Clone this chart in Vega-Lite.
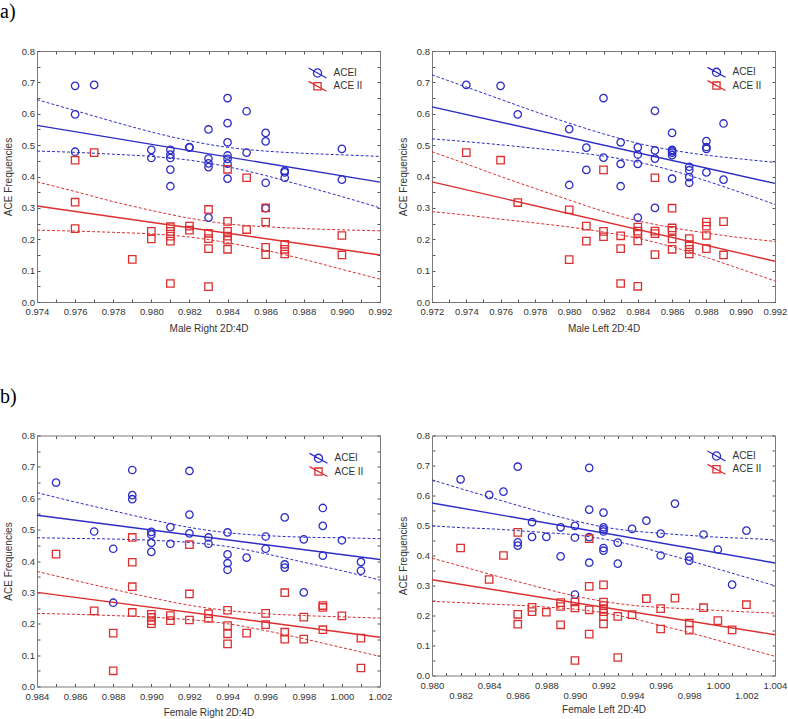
{
  "$schema": "https://vega.github.io/schema/vega-lite/v6.json",
  "padding": {"left": 0, "top": 2, "right": 5, "bottom": 0},
  "autosize": {"type": "pad"},
  "background": "white",
  "columns": 2,
  "spacing": {"row": 133.5, "column": 52},
  "bounds": "flush",
  "resolve": {
    "scale": {"x": "independent", "y": "independent", "color": "independent", "stroke": "independent"},
    "legend": {"color": "independent", "stroke": "independent"}
  },
  "config": {
    "font": "Liberation Sans",
    "view": {"stroke": null},
    "axis": {"grid": false, "tickSize": -3, "tickColor": "#555555", "tickWidth": 1, "domainColor": "#7a7a7a", "domainWidth": 1, "labelFontSize": 9.5, "labelColor": "#333333", "titleFontSize": 10, "titleFontWeight": "normal", "titleColor": "#333333", "labelFlush": false, "labelOverlap": false},
    "axisBottom": {"labelPadding": 7.5, "titlePadding": 7},
    "axisLeft": {"labelPadding": 5.5, "titlePadding": 8},
    "legend": {"symbolSize": 81, "symbolStrokeWidth": 1.3, "labelFontSize": 10, "labelColor": "#333333", "labelOffset": 10.5, "rowPadding": 0, "padding": 0, "title": null, "orient": "none"},
    "title": {"font": "Liberation Serif", "fontSize": 20, "fontWeight": "normal", "anchor": "start", "frame": "group", "color": "#000000"}
  },
  "datasets": {
    "fit": [
      {"p":"MR","g":"ACEI","x":0.974,"y":0.563},{"p":"MR","g":"ACEI","x":0.992,"y":0.382},
      {"p":"MR","g":"ACE II","x":0.974,"y":0.306},{"p":"MR","g":"ACE II","x":0.992,"y":0.150},
      {"p":"ML","g":"ACEI","x":0.972,"y":0.622},{"p":"ML","g":"ACEI","x":0.992,"y":0.378},
      {"p":"ML","g":"ACE II","x":0.972,"y":0.383},{"p":"ML","g":"ACE II","x":0.992,"y":0.130},
      {"p":"FR","g":"ACEI","x":0.984,"y":0.546},{"p":"FR","g":"ACEI","x":1.002,"y":0.405},
      {"p":"FR","g":"ACE II","x":0.984,"y":0.300},{"p":"FR","g":"ACE II","x":1.002,"y":0.157},
      {"p":"FL","g":"ACEI","x":0.980,"y":0.575},{"p":"FL","g":"ACEI","x":1.004,"y":0.375},
      {"p":"FL","g":"ACE II","x":0.980,"y":0.319},{"p":"FL","g":"ACE II","x":1.004,"y":0.136}
    ],
    "bands": [
      {"p":"MR","g":"ACEI","x":0.974,"u":0.645,"l":0.481},{"p":"MR","g":"ACEI","x":0.976,"u":0.610,"l":0.477},{"p":"MR","g":"ACEI","x":0.978,"u":0.575,"l":0.471},{"p":"MR","g":"ACEI","x":0.980,"u":0.542,"l":0.464},{"p":"MR","g":"ACEI","x":0.982,"u":0.514,"l":0.452},{"p":"MR","g":"ACEI","x":0.984,"u":0.493,"l":0.431},{"p":"MR","g":"ACEI","x":0.986,"u":0.481,"l":0.403},{"p":"MR","g":"ACEI","x":0.988,"u":0.474,"l":0.370},{"p":"MR","g":"ACEI","x":0.990,"u":0.469,"l":0.336},{"p":"MR","g":"ACEI","x":0.992,"u":0.464,"l":0.300},
      {"p":"MR","g":"ACE II","x":0.974,"u":0.383,"l":0.229},{"p":"MR","g":"ACE II","x":0.976,"u":0.352,"l":0.226},{"p":"MR","g":"ACE II","x":0.978,"u":0.320,"l":0.222},{"p":"MR","g":"ACE II","x":0.980,"u":0.292,"l":0.217},{"p":"MR","g":"ACE II","x":0.982,"u":0.267,"l":0.207},{"p":"MR","g":"ACE II","x":0.984,"u":0.249,"l":0.189},{"p":"MR","g":"ACE II","x":0.986,"u":0.240,"l":0.165},{"p":"MR","g":"ACE II","x":0.988,"u":0.234,"l":0.136},{"p":"MR","g":"ACE II","x":0.990,"u":0.230,"l":0.104},{"p":"MR","g":"ACE II","x":0.992,"u":0.227,"l":0.073},
      {"p":"ML","g":"ACEI","x":0.972,"u":0.724,"l":0.520},{"p":"ML","g":"ACEI","x":0.974,"u":0.685,"l":0.511},{"p":"ML","g":"ACEI","x":0.976,"u":0.646,"l":0.501},{"p":"ML","g":"ACEI","x":0.978,"u":0.607,"l":0.490},{"p":"ML","g":"ACEI","x":0.980,"u":0.570,"l":0.479},{"p":"ML","g":"ACEI","x":0.982,"u":0.536,"l":0.465},{"p":"ML","g":"ACEI","x":0.984,"u":0.506,"l":0.446},{"p":"ML","g":"ACEI","x":0.986,"u":0.484,"l":0.419},{"p":"ML","g":"ACEI","x":0.988,"u":0.468,"l":0.386},{"p":"ML","g":"ACEI","x":0.990,"u":0.456,"l":0.349},{"p":"ML","g":"ACEI","x":0.992,"u":0.445,"l":0.311},
      {"p":"ML","g":"ACE II","x":0.972,"u":0.479,"l":0.288},{"p":"ML","g":"ACE II","x":0.974,"u":0.440,"l":0.277},{"p":"ML","g":"ACE II","x":0.976,"u":0.400,"l":0.264},{"p":"ML","g":"ACE II","x":0.978,"u":0.362,"l":0.252},{"p":"ML","g":"ACE II","x":0.980,"u":0.325,"l":0.239},{"p":"ML","g":"ACE II","x":0.982,"u":0.289,"l":0.223},{"p":"ML","g":"ACE II","x":0.984,"u":0.259,"l":0.203},{"p":"ML","g":"ACE II","x":0.986,"u":0.237,"l":0.176},{"p":"ML","g":"ACE II","x":0.988,"u":0.220,"l":0.142},{"p":"ML","g":"ACE II","x":0.990,"u":0.205,"l":0.105},{"p":"ML","g":"ACE II","x":0.992,"u":0.193,"l":0.067},
      {"p":"FR","g":"ACEI","x":0.984,"u":0.618,"l":0.474},{"p":"FR","g":"ACEI","x":0.986,"u":0.588,"l":0.472},{"p":"FR","g":"ACEI","x":0.988,"u":0.560,"l":0.470},{"p":"FR","g":"ACEI","x":0.990,"u":0.532,"l":0.466},{"p":"FR","g":"ACEI","x":0.992,"u":0.507,"l":0.459},{"p":"FR","g":"ACEI","x":0.994,"u":0.490,"l":0.446},{"p":"FR","g":"ACEI","x":0.996,"u":0.481,"l":0.423},{"p":"FR","g":"ACEI","x":0.998,"u":0.476,"l":0.396},{"p":"FR","g":"ACEI","x":1.000,"u":0.474,"l":0.369},{"p":"FR","g":"ACEI","x":1.002,"u":0.471,"l":0.339},
      {"p":"FR","g":"ACE II","x":0.984,"u":0.367,"l":0.233},{"p":"FR","g":"ACE II","x":0.986,"u":0.338,"l":0.230},{"p":"FR","g":"ACE II","x":0.988,"u":0.310,"l":0.226},{"p":"FR","g":"ACE II","x":0.990,"u":0.283,"l":0.221},{"p":"FR","g":"ACE II","x":0.992,"u":0.259,"l":0.213},{"p":"FR","g":"ACE II","x":0.994,"u":0.242,"l":0.200},{"p":"FR","g":"ACE II","x":0.996,"u":0.232,"l":0.178},{"p":"FR","g":"ACE II","x":0.998,"u":0.226,"l":0.152},{"p":"FR","g":"ACE II","x":1.000,"u":0.222,"l":0.124},{"p":"FR","g":"ACE II","x":1.002,"u":0.218,"l":0.096},
      {"p":"FL","g":"ACEI","x":0.980,"u":0.652,"l":0.499},{"p":"FL","g":"ACEI","x":0.982,"u":0.623,"l":0.493},{"p":"FL","g":"ACEI","x":0.984,"u":0.595,"l":0.489},{"p":"FL","g":"ACEI","x":0.986,"u":0.567,"l":0.483},{"p":"FL","g":"ACEI","x":0.988,"u":0.540,"l":0.476},{"p":"FL","g":"ACEI","x":0.990,"u":0.516,"l":0.469},{"p":"FL","g":"ACEI","x":0.992,"u":0.495,"l":0.455},{"p":"FL","g":"ACEI","x":0.994,"u":0.482,"l":0.435},{"p":"FL","g":"ACEI","x":0.996,"u":0.474,"l":0.410},{"p":"FL","g":"ACEI","x":0.998,"u":0.467,"l":0.383},{"p":"FL","g":"ACEI","x":1.000,"u":0.461,"l":0.355},{"p":"FL","g":"ACEI","x":1.002,"u":0.457,"l":0.327},{"p":"FL","g":"ACEI","x":1.004,"u":0.452,"l":0.299},
      {"p":"FL","g":"ACE II","x":0.980,"u":0.391,"l":0.247},{"p":"FL","g":"ACE II","x":0.982,"u":0.365,"l":0.243},{"p":"FL","g":"ACE II","x":0.984,"u":0.338,"l":0.238},{"p":"FL","g":"ACE II","x":0.986,"u":0.313,"l":0.234},{"p":"FL","g":"ACE II","x":0.988,"u":0.288,"l":0.228},{"p":"FL","g":"ACE II","x":0.990,"u":0.265,"l":0.221},{"p":"FL","g":"ACE II","x":0.992,"u":0.247,"l":0.209},{"p":"FL","g":"ACE II","x":0.994,"u":0.234,"l":0.190},{"p":"FL","g":"ACE II","x":0.996,"u":0.227,"l":0.167},{"p":"FL","g":"ACE II","x":0.998,"u":0.222,"l":0.143},{"p":"FL","g":"ACE II","x":1.000,"u":0.217,"l":0.117},{"p":"FL","g":"ACE II","x":1.002,"u":0.212,"l":0.090},{"p":"FL","g":"ACE II","x":1.004,"u":0.208,"l":0.064}
    ],
    "pts": [
      {"p":"MR","g":"ACEI","x":0.976,"y":0.689},{"p":"MR","g":"ACEI","x":0.976,"y":0.598},{"p":"MR","g":"ACEI","x":0.976,"y":0.479},{"p":"MR","g":"ACEI","x":0.977,"y":0.692},{"p":"MR","g":"ACEI","x":0.980,"y":0.485},{"p":"MR","g":"ACEI","x":0.980,"y":0.459},{"p":"MR","g":"ACEI","x":0.981,"y":0.485},{"p":"MR","g":"ACEI","x":0.981,"y":0.470},{"p":"MR","g":"ACEI","x":0.981,"y":0.459},{"p":"MR","g":"ACEI","x":0.981,"y":0.422},{"p":"MR","g":"ACEI","x":0.981,"y":0.369},{"p":"MR","g":"ACEI","x":0.982,"y":0.494},{"p":"MR","g":"ACEI","x":0.982,"y":0.492},{"p":"MR","g":"ACEI","x":0.983,"y":0.550},{"p":"MR","g":"ACEI","x":0.983,"y":0.457},{"p":"MR","g":"ACEI","x":0.983,"y":0.442},{"p":"MR","g":"ACEI","x":0.983,"y":0.430},{"p":"MR","g":"ACEI","x":0.983,"y":0.269},{"p":"MR","g":"ACEI","x":0.984,"y":0.650},{"p":"MR","g":"ACEI","x":0.984,"y":0.570},{"p":"MR","g":"ACEI","x":0.984,"y":0.509},{"p":"MR","g":"ACEI","x":0.984,"y":0.467},{"p":"MR","g":"ACEI","x":0.984,"y":0.456},{"p":"MR","g":"ACEI","x":0.984,"y":0.441},{"p":"MR","g":"ACEI","x":0.984,"y":0.393},{"p":"MR","g":"ACEI","x":0.985,"y":0.608},{"p":"MR","g":"ACEI","x":0.985,"y":0.476},{"p":"MR","g":"ACEI","x":0.986,"y":0.539},{"p":"MR","g":"ACEI","x":0.986,"y":0.512},{"p":"MR","g":"ACEI","x":0.986,"y":0.380},{"p":"MR","g":"ACEI","x":0.986,"y":0.299},{"p":"MR","g":"ACEI","x":0.987,"y":0.418},{"p":"MR","g":"ACEI","x":0.987,"y":0.413},{"p":"MR","g":"ACEI","x":0.987,"y":0.396},{"p":"MR","g":"ACEI","x":0.990,"y":0.488},{"p":"MR","g":"ACEI","x":0.990,"y":0.390},
      {"p":"MR","g":"ACE II","x":0.976,"y":0.452},{"p":"MR","g":"ACE II","x":0.976,"y":0.318},{"p":"MR","g":"ACE II","x":0.976,"y":0.234},{"p":"MR","g":"ACE II","x":0.977,"y":0.476},{"p":"MR","g":"ACE II","x":0.979,"y":0.136},{"p":"MR","g":"ACE II","x":0.980,"y":0.225},{"p":"MR","g":"ACE II","x":0.980,"y":0.201},{"p":"MR","g":"ACE II","x":0.981,"y":0.240},{"p":"MR","g":"ACE II","x":0.981,"y":0.225},{"p":"MR","g":"ACE II","x":0.981,"y":0.210},{"p":"MR","g":"ACE II","x":0.981,"y":0.194},{"p":"MR","g":"ACE II","x":0.981,"y":0.059},{"p":"MR","g":"ACE II","x":0.982,"y":0.242},{"p":"MR","g":"ACE II","x":0.982,"y":0.229},{"p":"MR","g":"ACE II","x":0.983,"y":0.295},{"p":"MR","g":"ACE II","x":0.983,"y":0.219},{"p":"MR","g":"ACE II","x":0.983,"y":0.202},{"p":"MR","g":"ACE II","x":0.983,"y":0.170},{"p":"MR","g":"ACE II","x":0.983,"y":0.049},{"p":"MR","g":"ACE II","x":0.984,"y":0.423},{"p":"MR","g":"ACE II","x":0.984,"y":0.257},{"p":"MR","g":"ACE II","x":0.984,"y":0.225},{"p":"MR","g":"ACE II","x":0.984,"y":0.210},{"p":"MR","g":"ACE II","x":0.984,"y":0.197},{"p":"MR","g":"ACE II","x":0.984,"y":0.168},{"p":"MR","g":"ACE II","x":0.985,"y":0.396},{"p":"MR","g":"ACE II","x":0.985,"y":0.231},{"p":"MR","g":"ACE II","x":0.986,"y":0.300},{"p":"MR","g":"ACE II","x":0.986,"y":0.255},{"p":"MR","g":"ACE II","x":0.986,"y":0.174},{"p":"MR","g":"ACE II","x":0.986,"y":0.151},{"p":"MR","g":"ACE II","x":0.987,"y":0.184},{"p":"MR","g":"ACE II","x":0.987,"y":0.168},{"p":"MR","g":"ACE II","x":0.987,"y":0.153},{"p":"MR","g":"ACE II","x":0.990,"y":0.212},{"p":"MR","g":"ACE II","x":0.990,"y":0.150},
      {"p":"ML","g":"ACEI","x":0.974,"y":0.692},{"p":"ML","g":"ACEI","x":0.976,"y":0.689},{"p":"ML","g":"ACEI","x":0.977,"y":0.598},{"p":"ML","g":"ACEI","x":0.980,"y":0.551},{"p":"ML","g":"ACEI","x":0.980,"y":0.373},{"p":"ML","g":"ACEI","x":0.981,"y":0.492},{"p":"ML","g":"ACEI","x":0.981,"y":0.421},{"p":"ML","g":"ACEI","x":0.982,"y":0.650},{"p":"ML","g":"ACEI","x":0.982,"y":0.460},{"p":"ML","g":"ACEI","x":0.983,"y":0.509},{"p":"ML","g":"ACEI","x":0.983,"y":0.440},{"p":"ML","g":"ACEI","x":0.983,"y":0.369},{"p":"ML","g":"ACEI","x":0.984,"y":0.493},{"p":"ML","g":"ACEI","x":0.984,"y":0.470},{"p":"ML","g":"ACEI","x":0.984,"y":0.440},{"p":"ML","g":"ACEI","x":0.984,"y":0.269},{"p":"ML","g":"ACEI","x":0.985,"y":0.609},{"p":"ML","g":"ACEI","x":0.985,"y":0.483},{"p":"ML","g":"ACEI","x":0.985,"y":0.457},{"p":"ML","g":"ACEI","x":0.985,"y":0.300},{"p":"ML","g":"ACEI","x":0.986,"y":0.539},{"p":"ML","g":"ACEI","x":0.986,"y":0.485},{"p":"ML","g":"ACEI","x":0.986,"y":0.481},{"p":"ML","g":"ACEI","x":0.986,"y":0.476},{"p":"ML","g":"ACEI","x":0.986,"y":0.468},{"p":"ML","g":"ACEI","x":0.986,"y":0.393},{"p":"ML","g":"ACEI","x":0.987,"y":0.431},{"p":"ML","g":"ACEI","x":0.987,"y":0.420},{"p":"ML","g":"ACEI","x":0.987,"y":0.398},{"p":"ML","g":"ACEI","x":0.987,"y":0.380},{"p":"ML","g":"ACEI","x":0.988,"y":0.513},{"p":"ML","g":"ACEI","x":0.988,"y":0.494},{"p":"ML","g":"ACEI","x":0.988,"y":0.488},{"p":"ML","g":"ACEI","x":0.988,"y":0.413},{"p":"ML","g":"ACEI","x":0.989,"y":0.569},{"p":"ML","g":"ACEI","x":0.989,"y":0.390},
      {"p":"ML","g":"ACE II","x":0.974,"y":0.476},{"p":"ML","g":"ACE II","x":0.976,"y":0.452},{"p":"ML","g":"ACE II","x":0.977,"y":0.317},{"p":"ML","g":"ACE II","x":0.980,"y":0.294},{"p":"ML","g":"ACE II","x":0.980,"y":0.135},{"p":"ML","g":"ACE II","x":0.981,"y":0.242},{"p":"ML","g":"ACE II","x":0.981,"y":0.194},{"p":"ML","g":"ACE II","x":0.982,"y":0.421},{"p":"ML","g":"ACE II","x":0.982,"y":0.225},{"p":"ML","g":"ACE II","x":0.982,"y":0.208},{"p":"ML","g":"ACE II","x":0.983,"y":0.211},{"p":"ML","g":"ACE II","x":0.983,"y":0.170},{"p":"ML","g":"ACE II","x":0.983,"y":0.059},{"p":"ML","g":"ACE II","x":0.984,"y":0.239},{"p":"ML","g":"ACE II","x":0.984,"y":0.226},{"p":"ML","g":"ACE II","x":0.984,"y":0.218},{"p":"ML","g":"ACE II","x":0.984,"y":0.195},{"p":"ML","g":"ACE II","x":0.984,"y":0.050},{"p":"ML","g":"ACE II","x":0.985,"y":0.396},{"p":"ML","g":"ACE II","x":0.985,"y":0.226},{"p":"ML","g":"ACE II","x":0.985,"y":0.218},{"p":"ML","g":"ACE II","x":0.985,"y":0.151},{"p":"ML","g":"ACE II","x":0.986,"y":0.299},{"p":"ML","g":"ACE II","x":0.986,"y":0.236},{"p":"ML","g":"ACE II","x":0.986,"y":0.228},{"p":"ML","g":"ACE II","x":0.986,"y":0.201},{"p":"ML","g":"ACE II","x":0.986,"y":0.168},{"p":"ML","g":"ACE II","x":0.987,"y":0.202},{"p":"ML","g":"ACE II","x":0.987,"y":0.183},{"p":"ML","g":"ACE II","x":0.987,"y":0.168},{"p":"ML","g":"ACE II","x":0.987,"y":0.153},{"p":"ML","g":"ACE II","x":0.988,"y":0.255},{"p":"ML","g":"ACE II","x":0.988,"y":0.242},{"p":"ML","g":"ACE II","x":0.988,"y":0.212},{"p":"ML","g":"ACE II","x":0.988,"y":0.170},{"p":"ML","g":"ACE II","x":0.989,"y":0.256},{"p":"ML","g":"ACE II","x":0.989,"y":0.150},
      {"p":"FR","g":"ACEI","x":0.985,"y":0.650},{"p":"FR","g":"ACEI","x":0.987,"y":0.494},{"p":"FR","g":"ACEI","x":0.988,"y":0.439},{"p":"FR","g":"ACEI","x":0.988,"y":0.267},{"p":"FR","g":"ACEI","x":0.989,"y":0.690},{"p":"FR","g":"ACEI","x":0.989,"y":0.610},{"p":"FR","g":"ACEI","x":0.989,"y":0.597},{"p":"FR","g":"ACEI","x":0.990,"y":0.493},{"p":"FR","g":"ACEI","x":0.990,"y":0.484},{"p":"FR","g":"ACEI","x":0.990,"y":0.458},{"p":"FR","g":"ACEI","x":0.990,"y":0.429},{"p":"FR","g":"ACEI","x":0.991,"y":0.508},{"p":"FR","g":"ACEI","x":0.991,"y":0.455},{"p":"FR","g":"ACEI","x":0.992,"y":0.687},{"p":"FR","g":"ACEI","x":0.992,"y":0.548},{"p":"FR","g":"ACEI","x":0.992,"y":0.488},{"p":"FR","g":"ACEI","x":0.993,"y":0.475},{"p":"FR","g":"ACEI","x":0.993,"y":0.455},{"p":"FR","g":"ACEI","x":0.994,"y":0.491},{"p":"FR","g":"ACEI","x":0.994,"y":0.421},{"p":"FR","g":"ACEI","x":0.994,"y":0.393},{"p":"FR","g":"ACEI","x":0.994,"y":0.372},{"p":"FR","g":"ACEI","x":0.995,"y":0.411},{"p":"FR","g":"ACEI","x":0.996,"y":0.478},{"p":"FR","g":"ACEI","x":0.996,"y":0.439},{"p":"FR","g":"ACEI","x":0.997,"y":0.539},{"p":"FR","g":"ACEI","x":0.997,"y":0.389},{"p":"FR","g":"ACEI","x":0.997,"y":0.379},{"p":"FR","g":"ACEI","x":0.998,"y":0.469},{"p":"FR","g":"ACEI","x":0.998,"y":0.300},{"p":"FR","g":"ACEI","x":0.999,"y":0.569},{"p":"FR","g":"ACEI","x":0.999,"y":0.512},{"p":"FR","g":"ACEI","x":0.999,"y":0.417},{"p":"FR","g":"ACEI","x":1.000,"y":0.466},{"p":"FR","g":"ACEI","x":1.001,"y":0.397},{"p":"FR","g":"ACEI","x":1.001,"y":0.369},
      {"p":"FR","g":"ACE II","x":0.985,"y":0.422},{"p":"FR","g":"ACE II","x":0.987,"y":0.241},{"p":"FR","g":"ACE II","x":0.988,"y":0.170},{"p":"FR","g":"ACE II","x":0.988,"y":0.050},{"p":"FR","g":"ACE II","x":0.989,"y":0.475},{"p":"FR","g":"ACE II","x":0.989,"y":0.396},{"p":"FR","g":"ACE II","x":0.989,"y":0.318},{"p":"FR","g":"ACE II","x":0.989,"y":0.236},{"p":"FR","g":"ACE II","x":0.990,"y":0.230},{"p":"FR","g":"ACE II","x":0.990,"y":0.220},{"p":"FR","g":"ACE II","x":0.990,"y":0.210},{"p":"FR","g":"ACE II","x":0.990,"y":0.200},{"p":"FR","g":"ACE II","x":0.991,"y":0.226},{"p":"FR","g":"ACE II","x":0.991,"y":0.210},{"p":"FR","g":"ACE II","x":0.992,"y":0.452},{"p":"FR","g":"ACE II","x":0.992,"y":0.295},{"p":"FR","g":"ACE II","x":0.992,"y":0.212},{"p":"FR","g":"ACE II","x":0.993,"y":0.232},{"p":"FR","g":"ACE II","x":0.993,"y":0.217},{"p":"FR","g":"ACE II","x":0.994,"y":0.243},{"p":"FR","g":"ACE II","x":0.994,"y":0.194},{"p":"FR","g":"ACE II","x":0.994,"y":0.168},{"p":"FR","g":"ACE II","x":0.994,"y":0.136},{"p":"FR","g":"ACE II","x":0.995,"y":0.170},{"p":"FR","g":"ACE II","x":0.996,"y":0.233},{"p":"FR","g":"ACE II","x":0.996,"y":0.197},{"p":"FR","g":"ACE II","x":0.997,"y":0.299},{"p":"FR","g":"ACE II","x":0.997,"y":0.173},{"p":"FR","g":"ACE II","x":0.997,"y":0.151},{"p":"FR","g":"ACE II","x":0.998,"y":0.221},{"p":"FR","g":"ACE II","x":0.998,"y":0.151},{"p":"FR","g":"ACE II","x":0.999,"y":0.258},{"p":"FR","g":"ACE II","x":0.999,"y":0.252},{"p":"FR","g":"ACE II","x":0.999,"y":0.181},{"p":"FR","g":"ACE II","x":1.000,"y":0.225},{"p":"FR","g":"ACE II","x":1.001,"y":0.154},{"p":"FR","g":"ACE II","x":1.001,"y":0.059},
      {"p":"FL","g":"ACEI","x":0.982,"y":0.654},{"p":"FL","g":"ACEI","x":0.984,"y":0.602},{"p":"FL","g":"ACEI","x":0.985,"y":0.613},{"p":"FL","g":"ACEI","x":0.986,"y":0.696},{"p":"FL","g":"ACEI","x":0.986,"y":0.444},{"p":"FL","g":"ACEI","x":0.986,"y":0.433},{"p":"FL","g":"ACEI","x":0.987,"y":0.511},{"p":"FL","g":"ACEI","x":0.987,"y":0.462},{"p":"FL","g":"ACEI","x":0.988,"y":0.462},{"p":"FL","g":"ACEI","x":0.989,"y":0.494},{"p":"FL","g":"ACEI","x":0.989,"y":0.397},{"p":"FL","g":"ACEI","x":0.990,"y":0.499},{"p":"FL","g":"ACEI","x":0.990,"y":0.460},{"p":"FL","g":"ACEI","x":0.990,"y":0.270},{"p":"FL","g":"ACEI","x":0.991,"y":0.692},{"p":"FL","g":"ACEI","x":0.991,"y":0.553},{"p":"FL","g":"ACEI","x":0.991,"y":0.461},{"p":"FL","g":"ACEI","x":0.991,"y":0.376},{"p":"FL","g":"ACEI","x":0.992,"y":0.543},{"p":"FL","g":"ACEI","x":0.992,"y":0.494},{"p":"FL","g":"ACEI","x":0.992,"y":0.487},{"p":"FL","g":"ACEI","x":0.992,"y":0.480},{"p":"FL","g":"ACEI","x":0.992,"y":0.425},{"p":"FL","g":"ACEI","x":0.992,"y":0.416},{"p":"FL","g":"ACEI","x":0.993,"y":0.443},{"p":"FL","g":"ACEI","x":0.993,"y":0.373},{"p":"FL","g":"ACEI","x":0.994,"y":0.489},{"p":"FL","g":"ACEI","x":0.995,"y":0.516},{"p":"FL","g":"ACEI","x":0.996,"y":0.473},{"p":"FL","g":"ACEI","x":0.996,"y":0.400},{"p":"FL","g":"ACEI","x":0.997,"y":0.573},{"p":"FL","g":"ACEI","x":0.998,"y":0.396},{"p":"FL","g":"ACEI","x":0.998,"y":0.383},{"p":"FL","g":"ACEI","x":0.999,"y":0.470},{"p":"FL","g":"ACEI","x":1.000,"y":0.420},{"p":"FL","g":"ACEI","x":1.001,"y":0.303},{"p":"FL","g":"ACEI","x":1.002,"y":0.483},
      {"p":"FL","g":"ACE II","x":0.982,"y":0.425},{"p":"FL","g":"ACE II","x":0.984,"y":0.320},{"p":"FL","g":"ACE II","x":0.985,"y":0.400},{"p":"FL","g":"ACE II","x":0.986,"y":0.477},{"p":"FL","g":"ACE II","x":0.986,"y":0.204},{"p":"FL","g":"ACE II","x":0.986,"y":0.171},{"p":"FL","g":"ACE II","x":0.987,"y":0.227},{"p":"FL","g":"ACE II","x":0.987,"y":0.213},{"p":"FL","g":"ACE II","x":0.988,"y":0.211},{"p":"FL","g":"ACE II","x":0.989,"y":0.243},{"p":"FL","g":"ACE II","x":0.989,"y":0.230},{"p":"FL","g":"ACE II","x":0.989,"y":0.169},{"p":"FL","g":"ACE II","x":0.990,"y":0.245},{"p":"FL","g":"ACE II","x":0.990,"y":0.225},{"p":"FL","g":"ACE II","x":0.990,"y":0.050},{"p":"FL","g":"ACE II","x":0.991,"y":0.456},{"p":"FL","g":"ACE II","x":0.991,"y":0.297},{"p":"FL","g":"ACE II","x":0.991,"y":0.219},{"p":"FL","g":"ACE II","x":0.991,"y":0.138},{"p":"FL","g":"ACE II","x":0.992,"y":0.302},{"p":"FL","g":"ACE II","x":0.992,"y":0.245},{"p":"FL","g":"ACE II","x":0.992,"y":0.233},{"p":"FL","g":"ACE II","x":0.992,"y":0.223},{"p":"FL","g":"ACE II","x":0.992,"y":0.213},{"p":"FL","g":"ACE II","x":0.992,"y":0.196},{"p":"FL","g":"ACE II","x":0.992,"y":0.172},{"p":"FL","g":"ACE II","x":0.993,"y":0.197},{"p":"FL","g":"ACE II","x":0.993,"y":0.060},{"p":"FL","g":"ACE II","x":0.994,"y":0.203},{"p":"FL","g":"ACE II","x":0.995,"y":0.256},{"p":"FL","g":"ACE II","x":0.996,"y":0.223},{"p":"FL","g":"ACE II","x":0.996,"y":0.155},{"p":"FL","g":"ACE II","x":0.997,"y":0.258},{"p":"FL","g":"ACE II","x":0.998,"y":0.175},{"p":"FL","g":"ACE II","x":0.998,"y":0.151},{"p":"FL","g":"ACE II","x":0.999,"y":0.226},{"p":"FL","g":"ACE II","x":1.000,"y":0.183},{"p":"FL","g":"ACE II","x":1.001,"y":0.152},{"p":"FL","g":"ACE II","x":1.002,"y":0.236}
    ]
  },
  "concat": [
    {
      "width": 343, "height": 251,
      "title": {"text": "a)", "dx": -37, "offset": 8, "baseline": "alphabetic"},
      "resolve": {"axis": {"x": "independent", "y": "independent"}},
      "layer": [
        {"data": {"name": "bands"}, "transform": [{"filter": "datum.p == 'MR' && datum.g == 'ACEI'"}, {"fold": ["u", "l"], "as": ["k", "v"]}],
         "mark": {"type": "line", "color": "#2d2dc6", "strokeWidth": 1, "strokeDash": [3, 2], "interpolate": "monotone"},
         "encoding": {
           "x": {"field": "x", "type": "quantitative", "scale": {"domain": [0.974, 0.992], "nice": false, "zero": false}, "axis": {"orient": "top", "values": [0.974,0.975,0.976,0.977,0.978,0.979,0.980,0.981,0.982,0.983,0.984,0.985,0.986,0.987,0.988,0.989,0.990,0.991,0.992], "labels": false, "title": null}},
           "y": {"field": "v", "type": "quantitative", "scale": {"domain": [0, 0.8], "nice": false}, "axis": {"orient": "right", "values": [0,0.05,0.1,0.15,0.2,0.25,0.3,0.35,0.4,0.45,0.5,0.55,0.6,0.65,0.7,0.75,0.8], "labels": false, "title": null}},
           "detail": {"field": "k"}}},
        {"data": {"name": "bands"}, "transform": [{"filter": "datum.p == 'MR' && datum.g == 'ACE II'"}, {"fold": ["u", "l"], "as": ["k", "v"]}],
         "mark": {"type": "line", "color": "#dc2f2f", "strokeWidth": 1, "strokeDash": [3, 2], "interpolate": "monotone"},
         "encoding": {"x": {"field": "x", "type": "quantitative", "axis": null}, "y": {"field": "v", "type": "quantitative", "axis": null}, "detail": {"field": "k"}}},
        {"data": {"name": "fit"}, "transform": [{"filter": "datum.p == 'MR' && datum.g == 'ACEI'"}],
         "mark": {"type": "line", "color": "#2d2dc6", "strokeWidth": 1.4},
         "encoding": {"x": {"field": "x", "type": "quantitative", "axis": null}, "y": {"field": "y", "type": "quantitative", "axis": null}}},
        {"data": {"name": "fit"}, "transform": [{"filter": "datum.p == 'MR' && datum.g == 'ACE II'"}],
         "mark": {"type": "line", "color": "#dc2f2f", "strokeWidth": 1.4},
         "encoding": {"x": {"field": "x", "type": "quantitative", "axis": null}, "y": {"field": "y", "type": "quantitative", "axis": null}}},
        {"data": {"name": "pts"}, "transform": [{"filter": "datum.p == 'MR' && datum.g == 'ACEI'"}],
         "mark": {"type": "point", "filled": false, "strokeWidth": 1.3, "size": 55, "opacity": 1},
         "encoding": {
           "x": {"field": "x", "type": "quantitative", "axis": {"orient": "bottom", "values": [0.974,0.975,0.976,0.977,0.978,0.979,0.980,0.981,0.982,0.983,0.984,0.985,0.986,0.987,0.988,0.989,0.990,0.991,0.992], "labelExpr": "round(datum.value*1000)%2==0 ? format(datum.value,'.3f') : ''", "title": "Male Right 2D:4D"}},
           "y": {"field": "y", "type": "quantitative", "axis": {"orient": "left", "values": [0,0.05,0.1,0.15,0.2,0.25,0.3,0.35,0.4,0.45,0.5,0.55,0.6,0.65,0.7,0.75,0.8], "labelExpr": "round(datum.value*100)%10==0 ? format(datum.value,'.1f') : ''", "title": "ACE Frequencies"}},
           "color": {"field": "g", "type": "nominal", "scale": {"domain": ["ACEI"], "range": ["#2d2dc6"]}, "legend": {"legendX": 275, "legendY": 16.5, "symbolType": "M-2,-1.1L2,1.1M0.9,0A0.9,0.9,0,1,1,-0.9,0A0.9,0.9,0,1,1,0.9,0"}}}},
        {"data": {"name": "pts"}, "transform": [{"filter": "datum.p == 'MR' && datum.g == 'ACE II'"}],
         "mark": {"type": "square", "filled": false, "strokeWidth": 1.3, "size": 55, "opacity": 1},
         "encoding": {
           "x": {"field": "x", "type": "quantitative", "axis": null},
           "y": {"field": "y", "type": "quantitative", "axis": null},
           "stroke": {"field": "g", "type": "nominal", "scale": {"domain": ["ACE II"], "range": ["#dc2f2f"]}, "legend": {"legendX": 275, "legendY": 29.8, "symbolType": "M-2,-1.1L2,1.1M-0.8,-0.8H0.8V0.8H-0.8Z"}}}}
      ]
    },
    {
      "width": 343, "height": 251,
      "resolve": {"axis": {"x": "independent", "y": "independent"}},
      "layer": [
        {"data": {"name": "bands"}, "transform": [{"filter": "datum.p == 'ML' && datum.g == 'ACEI'"}, {"fold": ["u", "l"], "as": ["k", "v"]}],
         "mark": {"type": "line", "color": "#2d2dc6", "strokeWidth": 1, "strokeDash": [3, 2], "interpolate": "monotone"},
         "encoding": {
           "x": {"field": "x", "type": "quantitative", "scale": {"domain": [0.972, 0.992], "nice": false, "zero": false}, "axis": {"orient": "top", "values": [0.972,0.973,0.974,0.975,0.976,0.977,0.978,0.979,0.980,0.981,0.982,0.983,0.984,0.985,0.986,0.987,0.988,0.989,0.990,0.991,0.992], "labels": false, "title": null}},
           "y": {"field": "v", "type": "quantitative", "scale": {"domain": [0, 0.8], "nice": false}, "axis": {"orient": "right", "values": [0,0.05,0.1,0.15,0.2,0.25,0.3,0.35,0.4,0.45,0.5,0.55,0.6,0.65,0.7,0.75,0.8], "labels": false, "title": null}},
           "detail": {"field": "k"}}},
        {"data": {"name": "bands"}, "transform": [{"filter": "datum.p == 'ML' && datum.g == 'ACE II'"}, {"fold": ["u", "l"], "as": ["k", "v"]}],
         "mark": {"type": "line", "color": "#dc2f2f", "strokeWidth": 1, "strokeDash": [3, 2], "interpolate": "monotone"},
         "encoding": {"x": {"field": "x", "type": "quantitative", "axis": null}, "y": {"field": "v", "type": "quantitative", "axis": null}, "detail": {"field": "k"}}},
        {"data": {"name": "fit"}, "transform": [{"filter": "datum.p == 'ML' && datum.g == 'ACEI'"}],
         "mark": {"type": "line", "color": "#2d2dc6", "strokeWidth": 1.4},
         "encoding": {"x": {"field": "x", "type": "quantitative", "axis": null}, "y": {"field": "y", "type": "quantitative", "axis": null}}},
        {"data": {"name": "fit"}, "transform": [{"filter": "datum.p == 'ML' && datum.g == 'ACE II'"}],
         "mark": {"type": "line", "color": "#dc2f2f", "strokeWidth": 1.4},
         "encoding": {"x": {"field": "x", "type": "quantitative", "axis": null}, "y": {"field": "y", "type": "quantitative", "axis": null}}},
        {"data": {"name": "pts"}, "transform": [{"filter": "datum.p == 'ML' && datum.g == 'ACEI'"}],
         "mark": {"type": "point", "filled": false, "strokeWidth": 1.3, "size": 55, "opacity": 1},
         "encoding": {
           "x": {"field": "x", "type": "quantitative", "axis": {"orient": "bottom", "values": [0.972,0.973,0.974,0.975,0.976,0.977,0.978,0.979,0.980,0.981,0.982,0.983,0.984,0.985,0.986,0.987,0.988,0.989,0.990,0.991,0.992], "labelExpr": "round(datum.value*1000)%2==0 ? format(datum.value,'.3f') : ''", "title": "Male Left 2D:4D"}},
           "y": {"field": "y", "type": "quantitative", "axis": {"orient": "left", "values": [0,0.05,0.1,0.15,0.2,0.25,0.3,0.35,0.4,0.45,0.5,0.55,0.6,0.65,0.7,0.75,0.8], "labelExpr": "round(datum.value*100)%10==0 ? format(datum.value,'.1f') : ''", "title": "ACE Frequencies"}},
           "color": {"field": "g", "type": "nominal", "scale": {"domain": ["ACEI"], "range": ["#2d2dc6"]}, "legend": {"legendX": 279, "legendY": 15.8, "symbolType": "M-2,-1.1L2,1.1M0.9,0A0.9,0.9,0,1,1,-0.9,0A0.9,0.9,0,1,1,0.9,0"}}}},
        {"data": {"name": "pts"}, "transform": [{"filter": "datum.p == 'ML' && datum.g == 'ACE II'"}],
         "mark": {"type": "square", "filled": false, "strokeWidth": 1.3, "size": 55, "opacity": 1},
         "encoding": {
           "x": {"field": "x", "type": "quantitative", "axis": null},
           "y": {"field": "y", "type": "quantitative", "axis": null},
           "stroke": {"field": "g", "type": "nominal", "scale": {"domain": ["ACE II"], "range": ["#dc2f2f"]}, "legend": {"legendX": 279, "legendY": 29.1, "symbolType": "M-2,-1.1L2,1.1M-0.8,-0.8H0.8V0.8H-0.8Z"}}}}
      ]
    },
    {
      "width": 343, "height": 251,
      "title": {"text": "b)", "dx": -37, "offset": 8, "baseline": "alphabetic"},
      "resolve": {"axis": {"x": "independent", "y": "independent"}},
      "layer": [
        {"data": {"name": "bands"}, "transform": [{"filter": "datum.p == 'FR' && datum.g == 'ACEI'"}, {"fold": ["u", "l"], "as": ["k", "v"]}],
         "mark": {"type": "line", "color": "#2d2dc6", "strokeWidth": 1, "strokeDash": [3, 2], "interpolate": "monotone"},
         "encoding": {
           "x": {"field": "x", "type": "quantitative", "scale": {"domain": [0.984, 1.002], "nice": false, "zero": false}, "axis": {"orient": "top", "values": [0.984,0.985,0.986,0.987,0.988,0.989,0.990,0.991,0.992,0.993,0.994,0.995,0.996,0.997,0.998,0.999,1.000,1.001,1.002], "labels": false, "title": null}},
           "y": {"field": "v", "type": "quantitative", "scale": {"domain": [0, 0.8], "nice": false}, "axis": {"orient": "right", "values": [0,0.05,0.1,0.15,0.2,0.25,0.3,0.35,0.4,0.45,0.5,0.55,0.6,0.65,0.7,0.75,0.8], "labels": false, "title": null}},
           "detail": {"field": "k"}}},
        {"data": {"name": "bands"}, "transform": [{"filter": "datum.p == 'FR' && datum.g == 'ACE II'"}, {"fold": ["u", "l"], "as": ["k", "v"]}],
         "mark": {"type": "line", "color": "#dc2f2f", "strokeWidth": 1, "strokeDash": [3, 2], "interpolate": "monotone"},
         "encoding": {"x": {"field": "x", "type": "quantitative", "axis": null}, "y": {"field": "v", "type": "quantitative", "axis": null}, "detail": {"field": "k"}}},
        {"data": {"name": "fit"}, "transform": [{"filter": "datum.p == 'FR' && datum.g == 'ACEI'"}],
         "mark": {"type": "line", "color": "#2d2dc6", "strokeWidth": 1.4},
         "encoding": {"x": {"field": "x", "type": "quantitative", "axis": null}, "y": {"field": "y", "type": "quantitative", "axis": null}}},
        {"data": {"name": "fit"}, "transform": [{"filter": "datum.p == 'FR' && datum.g == 'ACE II'"}],
         "mark": {"type": "line", "color": "#dc2f2f", "strokeWidth": 1.4},
         "encoding": {"x": {"field": "x", "type": "quantitative", "axis": null}, "y": {"field": "y", "type": "quantitative", "axis": null}}},
        {"data": {"name": "pts"}, "transform": [{"filter": "datum.p == 'FR' && datum.g == 'ACEI'"}],
         "mark": {"type": "point", "filled": false, "strokeWidth": 1.3, "size": 55, "opacity": 1},
         "encoding": {
           "x": {"field": "x", "type": "quantitative", "axis": {"orient": "bottom", "values": [0.984,0.985,0.986,0.987,0.988,0.989,0.990,0.991,0.992,0.993,0.994,0.995,0.996,0.997,0.998,0.999,1.000,1.001,1.002], "labelExpr": "round(datum.value*1000)%2==0 ? format(datum.value,'.3f') : ''", "title": "Female Right 2D:4D"}},
           "y": {"field": "y", "type": "quantitative", "axis": {"orient": "left", "values": [0,0.05,0.1,0.15,0.2,0.25,0.3,0.35,0.4,0.45,0.5,0.55,0.6,0.65,0.7,0.75,0.8], "labelExpr": "round(datum.value*100)%10==0 ? format(datum.value,'.1f') : ''", "title": "ACE Frequencies"}},
           "color": {"field": "g", "type": "nominal", "scale": {"domain": ["ACEI"], "range": ["#2d2dc6"]}, "legend": {"legendX": 276, "legendY": 17.3, "symbolType": "M-2,-1.1L2,1.1M0.9,0A0.9,0.9,0,1,1,-0.9,0A0.9,0.9,0,1,1,0.9,0"}}}},
        {"data": {"name": "pts"}, "transform": [{"filter": "datum.p == 'FR' && datum.g == 'ACE II'"}],
         "mark": {"type": "square", "filled": false, "strokeWidth": 1.3, "size": 55, "opacity": 1},
         "encoding": {
           "x": {"field": "x", "type": "quantitative", "axis": null},
           "y": {"field": "y", "type": "quantitative", "axis": null},
           "stroke": {"field": "g", "type": "nominal", "scale": {"domain": ["ACE II"], "range": ["#dc2f2f"]}, "legend": {"legendX": 276, "legendY": 30.6, "symbolType": "M-2,-1.1L2,1.1M-0.8,-0.8H0.8V0.8H-0.8Z"}}}}
      ]
    },
    {
      "width": 343, "height": 240,
      "resolve": {"axis": {"x": "independent", "y": "independent"}},
      "layer": [
        {"data": {"name": "bands"}, "transform": [{"filter": "datum.p == 'FL' && datum.g == 'ACEI'"}, {"fold": ["u", "l"], "as": ["k", "v"]}],
         "mark": {"type": "line", "color": "#2d2dc6", "strokeWidth": 1, "strokeDash": [3, 2], "interpolate": "monotone"},
         "encoding": {
           "x": {"field": "x", "type": "quantitative", "scale": {"domain": [0.980, 1.004], "nice": false, "zero": false}, "axis": {"orient": "top", "values": [0.980,0.981,0.982,0.983,0.984,0.985,0.986,0.987,0.988,0.989,0.990,0.991,0.992,0.993,0.994,0.995,0.996,0.997,0.998,0.999,1.000,1.001,1.002,1.003,1.004], "labels": false, "title": null}},
           "y": {"field": "v", "type": "quantitative", "scale": {"domain": [0, 0.8], "nice": false}, "axis": {"orient": "right", "values": [0,0.05,0.1,0.15,0.2,0.25,0.3,0.35,0.4,0.45,0.5,0.55,0.6,0.65,0.7,0.75,0.8], "labels": false, "title": null}},
           "detail": {"field": "k"}}},
        {"data": {"name": "bands"}, "transform": [{"filter": "datum.p == 'FL' && datum.g == 'ACE II'"}, {"fold": ["u", "l"], "as": ["k", "v"]}],
         "mark": {"type": "line", "color": "#dc2f2f", "strokeWidth": 1, "strokeDash": [3, 2], "interpolate": "monotone"},
         "encoding": {"x": {"field": "x", "type": "quantitative", "axis": null}, "y": {"field": "v", "type": "quantitative", "axis": null}, "detail": {"field": "k"}}},
        {"data": {"name": "fit"}, "transform": [{"filter": "datum.p == 'FL' && datum.g == 'ACEI'"}],
         "mark": {"type": "line", "color": "#2d2dc6", "strokeWidth": 1.4},
         "encoding": {"x": {"field": "x", "type": "quantitative", "axis": null}, "y": {"field": "y", "type": "quantitative", "axis": null}}},
        {"data": {"name": "fit"}, "transform": [{"filter": "datum.p == 'FL' && datum.g == 'ACE II'"}],
         "mark": {"type": "line", "color": "#dc2f2f", "strokeWidth": 1.4},
         "encoding": {"x": {"field": "x", "type": "quantitative", "axis": null}, "y": {"field": "y", "type": "quantitative", "axis": null}}},
        {"data": {"name": "pts"}, "transform": [{"filter": "datum.p == 'FL' && datum.g == 'ACEI'"}],
         "mark": {"type": "point", "filled": false, "strokeWidth": 1.3, "size": 55, "opacity": 1},
         "encoding": {
           "x": {"field": "x", "type": "quantitative", "axis": {"orient": "bottom", "values": [0.980,0.981,0.982,0.983,0.984,0.985,0.986,0.987,0.988,0.989,0.990,0.991,0.992,0.993,0.994,0.995,0.996,0.997,0.998,0.999,1.000,1.001,1.002,1.003,1.004], "labelExpr": "(round(datum.value*1000)-980)%4==0 ? format(datum.value,'.3f') : ((round(datum.value*1000)-980)%2==0 ? ['', format(datum.value,'.3f')] : '')", "labelLineHeight": 10, "titlePadding": 5, "title": "Female Left 2D:4D"}},
           "y": {"field": "y", "type": "quantitative", "axis": {"orient": "left", "values": [0,0.05,0.1,0.15,0.2,0.25,0.3,0.35,0.4,0.45,0.5,0.55,0.6,0.65,0.7,0.75,0.8], "labelExpr": "round(datum.value*100)%10==0 ? format(datum.value,'.1f') : ''", "title": "ACE Frequencies"}},
           "color": {"field": "g", "type": "nominal", "scale": {"domain": ["ACEI"], "range": ["#2d2dc6"]}, "legend": {"legendX": 279, "legendY": 15, "symbolType": "M-2,-1.1L2,1.1M0.9,0A0.9,0.9,0,1,1,-0.9,0A0.9,0.9,0,1,1,0.9,0"}}}},
        {"data": {"name": "pts"}, "transform": [{"filter": "datum.p == 'FL' && datum.g == 'ACE II'"}],
         "mark": {"type": "square", "filled": false, "strokeWidth": 1.3, "size": 55, "opacity": 1},
         "encoding": {
           "x": {"field": "x", "type": "quantitative", "axis": null},
           "y": {"field": "y", "type": "quantitative", "axis": null},
           "stroke": {"field": "g", "type": "nominal", "scale": {"domain": ["ACE II"], "range": ["#dc2f2f"]}, "legend": {"legendX": 279, "legendY": 28.3, "symbolType": "M-2,-1.1L2,1.1M-0.8,-0.8H0.8V0.8H-0.8Z"}}}}
      ]
    }
  ]
}
